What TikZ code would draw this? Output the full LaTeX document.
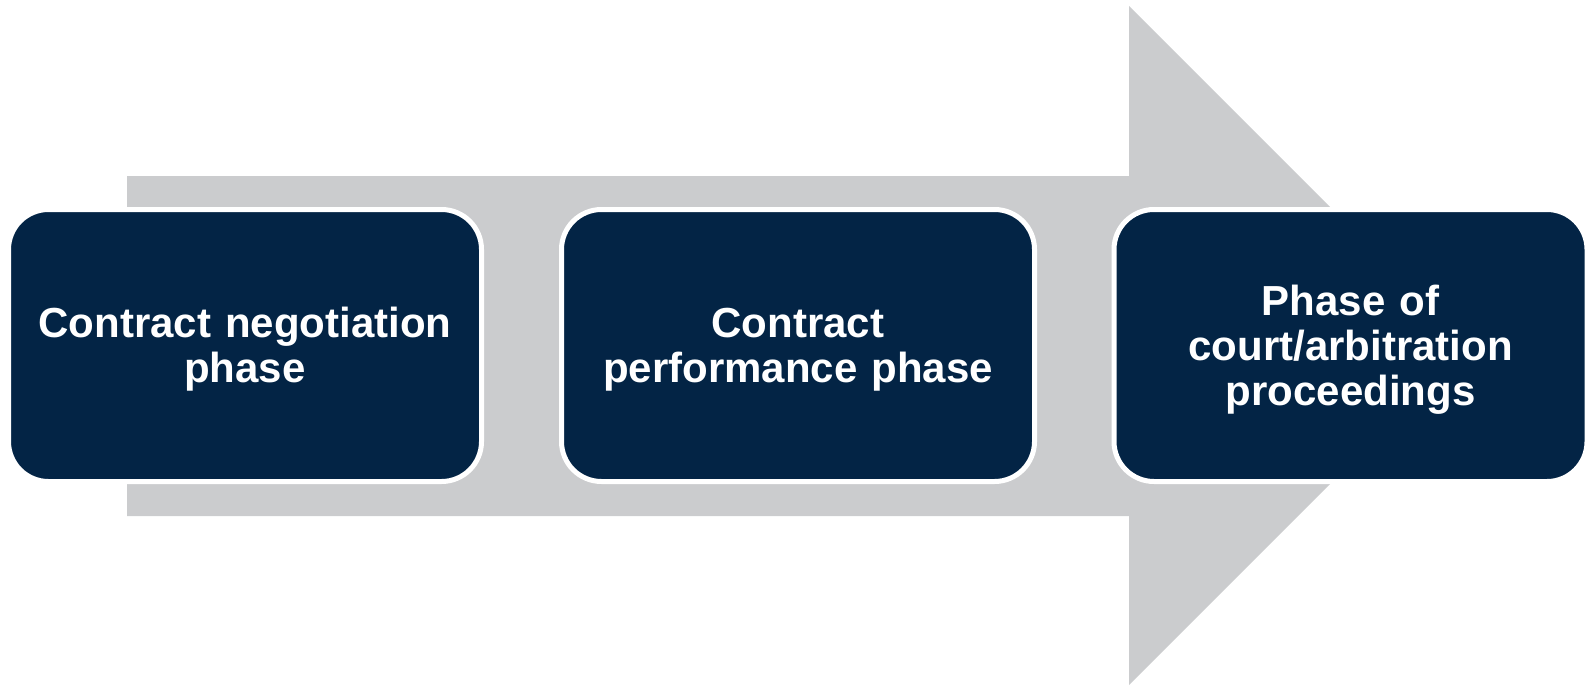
\documentclass[tikz,border=0pt]{standalone}
\usepackage{fontspec}
\setmainfont{Liberation Sans}
\definecolor{navy}{RGB}{3,36,69}
\definecolor{arrowgray}{RGB}{203,204,206}
\begin{document}
\begin{tikzpicture}[x=1pt,y=-1pt,
  phasebox/.style={draw=white, line width=5pt, fill=navy, rounded corners=40pt,
    minimum width=473pt, minimum height=272pt, inner sep=0pt},
  phasetext/.style={text=white, text width=460pt, align=center, inner sep=0pt,
    font=\fontsize{42}{45}\selectfont\bfseries}]
\useasboundingbox (0,0) rectangle (1586,685);
\fill[arrowgray] (127,176) -- (1129,176) -- (1129,6) -- (1468.5,345.5)
  -- (1129,685) -- (1129,516) -- (127,516) -- cycle;
\node[phasebox] (p1) at (245,345.5) {};
\node[phasebox] (p2) at (798,345.5) {};
\node[phasebox] (p3) at (1350.5,345.5) {};
\node[phasetext] (t1) at ([yshift=-4pt]p1.center) {Contract negotiation\\phase};
\node[phasetext] (t2) at ([yshift=-4pt]p2.center) {Contract\\performance phase};
\node[phasetext] (t3) at ([yshift=-4pt]p3.center) {Phase of\\court/arbitration\\proceedings};
\end{tikzpicture}
\end{document}
